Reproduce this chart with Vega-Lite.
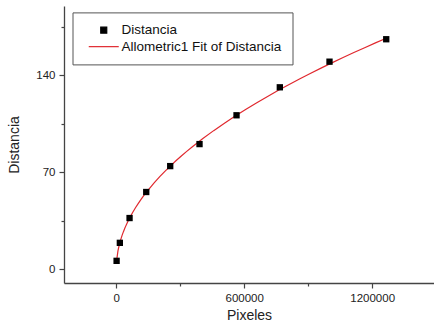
{
  "$schema": "https://vega.github.io/schema/vega-lite/v6.json",
  "autosize": {"type": "none"},
  "width": 370,
  "height": 277,
  "padding": {"left": 64, "top": 6, "right": 0, "bottom": 40},
  "background": "white",
  "config": {
    "view": {"stroke": null},
    "font": "Liberation Sans",
    "axis": {
      "domainColor": "#444",
      "domainWidth": 1.3,
      "tickColor": "#444",
      "tickWidth": 1.2,
      "tickSize": 5,
      "grid": false,
      "labelFont": "Liberation Sans",
      "labelFontSize": 11.5,
      "labelColor": "#222",
      "titleFont": "Liberation Sans",
      "titleFontSize": 14,
      "titleFontWeight": "normal",
      "titleColor": "#222"
    }
  },
  "data": {
    "values": [
      {"x": 1650, "y": 6.0, "series": "Distancia", "fit": "Allometric1 Fit of Distancia"},
      {"x": 16900, "y": 19.0, "series": "Distancia", "fit": "Allometric1 Fit of Distancia"},
      {"x": 62400, "y": 36.9, "series": "Distancia", "fit": "Allometric1 Fit of Distancia"},
      {"x": 140600, "y": 55.7, "series": "Distancia", "fit": "Allometric1 Fit of Distancia"},
      {"x": 253000, "y": 74.4, "series": "Distancia", "fit": "Allometric1 Fit of Distancia"},
      {"x": 390500, "y": 90.3, "series": "Distancia", "fit": "Allometric1 Fit of Distancia"},
      {"x": 564000, "y": 111.1, "series": "Distancia", "fit": "Allometric1 Fit of Distancia"},
      {"x": 767000, "y": 131.3, "series": "Distancia", "fit": "Allometric1 Fit of Distancia"},
      {"x": 1000000, "y": 149.8, "series": "Distancia", "fit": "Allometric1 Fit of Distancia"},
      {"x": 1266000, "y": 166.0, "series": "Distancia", "fit": "Allometric1 Fit of Distancia"}
    ]
  },
  "resolve": {"axis": {"x": "independent", "y": "independent"}},
  "layer": [
    {
      "transform": [
        {"regression": "y", "on": "x", "method": "pow", "groupby": ["fit"]}
      ],
      "mark": {"type": "line", "strokeWidth": 1.2},
      "encoding": {
        "x": {
          "field": "x", "type": "quantitative",
          "scale": {"domain": [-245000, 1490000], "nice": false, "zero": false},
          "axis": {"orient": "bottom", "values": [0, 600000, 1200000], "format": "d", "title": "Pixeles", "labelPadding": 4, "titlePadding": 5}
        },
        "y": {
          "field": "y", "type": "quantitative",
          "scale": {"domain": [-10, 190], "nice": false, "zero": false},
          "axis": {"orient": "left", "values": [0, 70, 140], "title": "Distancia", "labelPadding": 4, "titlePadding": 14}
        },
        "color": {
          "field": "fit", "type": "nominal",
          "scale": {"domain": ["Distancia", "Allometric1 Fit of Distancia"], "range": ["#000000", "#e0282e"]},
          "legend": {
            "orient": "none",
            "legendX": 8.5,
            "legendY": 6.4,
            "title": null,
            "strokeColor": "#555",
            "fillColor": "white",
            "padding": 11,
            "symbolSize": 100,
            "symbolOffset": 13.5,
            "symbolStrokeWidth": 1.2,
            "symbolOpacity": 1,
            "labelFont": "Liberation Sans",
            "labelFontSize": 13.5,
            "labelColor": "#111",
            "labelOffset": 11,
            "rowPadding": 1.5,
            "encode": {
              "symbols": {
                "update": {
                  "shape": {"signal": "datum.value === 'Distancia' ? 'square' : 'M-3,0H3'"},
                  "size": {"signal": "datum.value === 'Distancia' ? 36 : 100"},
                  "fill": {"signal": "datum.value === 'Distancia' ? '#000000' : 'transparent'"},
                  "stroke": {"signal": "datum.value === 'Distancia' ? 'transparent' : '#e0282e'"}
                }
              }
            }
          }
        }
      }
    },
    {
      "mark": {"type": "point", "shape": "square", "filled": true, "size": 40, "opacity": 1},
      "encoding": {
        "x": {"field": "x", "type": "quantitative", "axis": {"orient": "bottom", "values": [300000, 900000], "labels": false, "domain": false, "tickSize": 3, "title": null}},
        "y": {"field": "y", "type": "quantitative", "axis": {"orient": "left", "values": [35, 105, 175], "labels": false, "domain": false, "tickSize": 3, "title": null}},
        "color": {"field": "series", "type": "nominal"}
      }
    }
  ]
}
